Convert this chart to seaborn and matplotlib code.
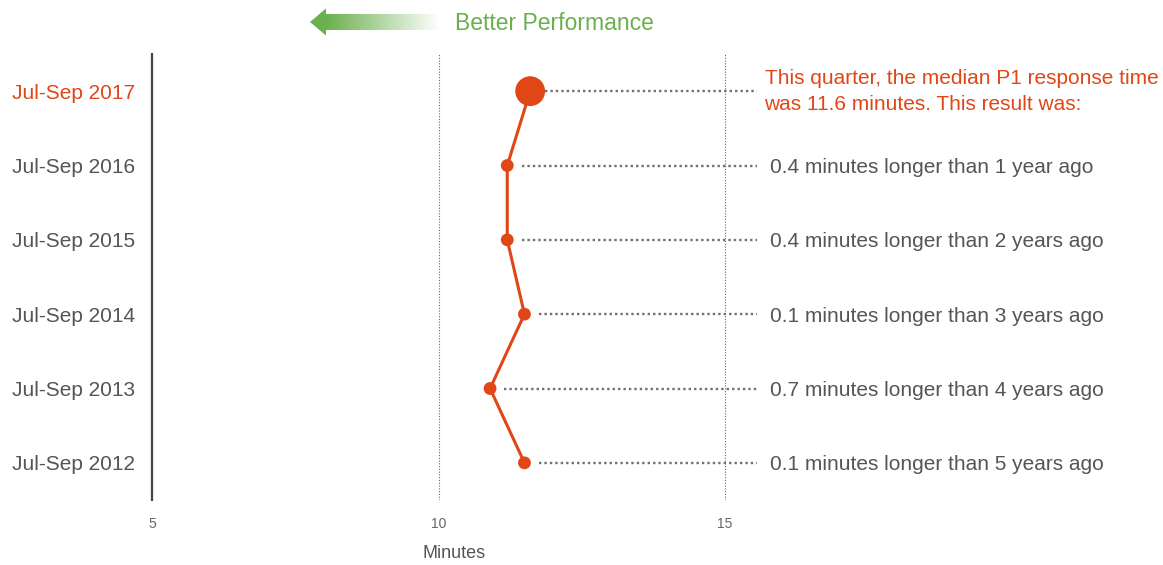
import numpy as np
import pandas as pd
import matplotlib
matplotlib.use("Agg")
import matplotlib.pyplot as plt
from matplotlib.patches import Polygon
from matplotlib.colors import LinearSegmentedColormap
import seaborn as sns

# Median P1 response time per quarter (most recent first)
quarters = ["Jul-Sep 2017", "Jul-Sep 2016", "Jul-Sep 2015",
            "Jul-Sep 2014", "Jul-Sep 2013", "Jul-Sep 2012"]
minutes = [11.6, 11.2, 11.2, 11.5, 10.9, 11.5]
comparisons = [
    "This quarter, the median P1 response time\nwas 11.6 minutes. This result was:",
    "0.4 minutes longer than 1 year ago",
    "0.4 minutes longer than 2 years ago",
    "0.1 minutes longer than 3 years ago",
    "0.7 minutes longer than 4 years ago",
    "0.1 minutes longer than 5 years ago",
]
x_ticks = [5, 10, 15]

ORANGE = "#e04616"
GREY = "#555555"
DOT = "#707070"
GREEN = "#6ab04c"

sns.set_theme(style="white")
plt.rcParams["font.family"] = ["Liberation Sans", "DejaVu Sans"]

df = pd.DataFrame({"quarter": quarters, "minutes": minutes,
                   "pos": np.arange(len(quarters))})
df["current"] = df["pos"] == 0

W, H = 1163, 565
fig = plt.figure(figsize=(W / 100, H / 100), dpi=100)
x_max = 15.55
ax = fig.add_axes([152 / W, 1 - 500 / H, (x_max - 5) * 57.3 / W, 446 / H])

# vertical reference lines
for v in (10, 15):
    ax.axvline(v, color="#666666", lw=0.8, ls=(0, (1, 1.5)), zorder=1)

# dotted leaders from each point to the annotation column
for m, p in zip(df["minutes"], df["pos"]):
    ax.plot([m + 0.25, x_max], [p, p], color=DOT, lw=1.7,
            ls=(0, (1, 1.3)), zorder=1)

sns.lineplot(data=df, x="minutes", y="pos", sort=False, estimator=None,
             color=ORANGE, lw=2.2, ax=ax, zorder=3)
sns.scatterplot(data=df, x="minutes", y="pos", size="current",
                sizes={True: 460, False: 85}, color=ORANGE,
                edgecolor="none", legend=False, ax=ax, zorder=4)

ax.set_xlim(5, x_max)
ax.set_ylim(len(quarters) - 0.5, -0.5)
ax.set_xticks(x_ticks)
ax.set_xticklabels([str(t) for t in x_ticks], fontsize=10, color="#666666")
ax.set_yticks(df["pos"])
ax.set_yticklabels(quarters, fontsize=15, color=GREY)
ax.get_yticklabels()[0].set_color(ORANGE)
ax.tick_params(axis="x", length=0, pad=12)
ax.tick_params(axis="y", length=0, pad=12)
ax.set_xlabel("Minutes", fontsize=13, color=GREY, labelpad=10)
ax.set_ylabel("")
for s in ("top", "right", "bottom"):
    ax.spines[s].set_visible(False)
ax.spines["left"].set_color("#444444")
ax.spines["left"].set_linewidth(1.6)

# annotation column
for i, (txt, p) in enumerate(zip(comparisons, df["pos"])):
    if i == 0:
        ax.annotate(txt, xy=(1, p), xycoords=("axes fraction", "data"),
                    xytext=(8, 0), textcoords="offset pixels",
                    ha="left", va="center", fontsize=15, color=ORANGE,
                    linespacing=1.45)
    else:
        ax.annotate(txt, xy=(1, p), xycoords=("axes fraction", "data"),
                    xytext=(13, -2), textcoords="offset pixels",
                    ha="left", va="center", fontsize=15, color=GREY)

# "Better Performance" arrow with fading tail
over = fig.add_axes([0, 0, 1, 1], zorder=-1)
over.axis("off")
fade = LinearSegmentedColormap.from_list("fade", [GREEN, "#ffffff"])
grad = np.linspace(0, 1, 256)[None, :]
over.imshow(grad, cmap=fade, extent=(325, 440, 30, 14), aspect="auto")
over.add_patch(Polygon([(310, 22), (326, 8.5), (326, 35.5)],
                       closed=True, color=GREEN, lw=0))
over.set_xlim(0, W)
over.set_ylim(H, 0)
over.text(455, 23, "Better Performance", fontsize=16.5, color=GREEN,
          ha="left", va="center")

fig.savefig("out.png", dpi=100, facecolor="white")
